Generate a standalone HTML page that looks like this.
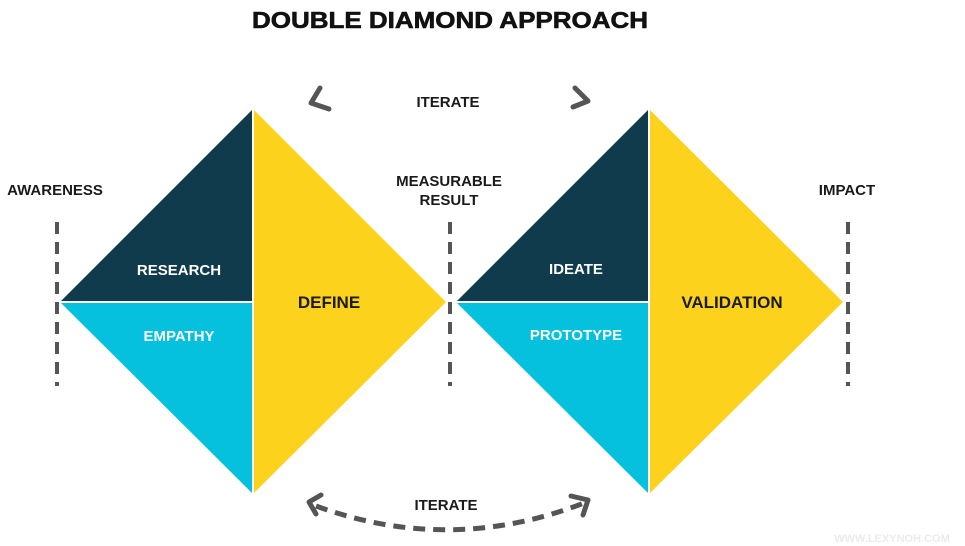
<!DOCTYPE html>
<html><head><meta charset="utf-8"><style>
html,body{margin:0;padding:0;background:#fff;width:965px;height:546px;overflow:hidden}
text{font-family:"Liberation Sans",Arial,sans-serif;font-weight:bold}
</style></head><body>
<svg width="965" height="546" viewBox="0 0 965 546" xmlns="http://www.w3.org/2000/svg">
<text x="450" y="28" text-anchor="middle" font-size="23" fill="#111" textLength="396" lengthAdjust="spacingAndGlyphs" stroke="#111" stroke-width="0.6">DOUBLE DIAMOND APPROACH</text>
<polygon points="60,302 253,109 253,302" fill="#0f3b4c"/>
<polygon points="60,302 253,302 253,494" fill="#06c1dd"/>
<polygon points="253,109 446,302 253,494" fill="#fcd21c"/>
<line x1="60" y1="302" x2="253" y2="302" stroke="#fff" stroke-width="2"/>
<line x1="253" y1="109" x2="253" y2="494" stroke="#fff" stroke-width="2"/>
<polygon points="456,302 649,109 649,302" fill="#0f3b4c"/>
<polygon points="456,302 649,302 649,494" fill="#06c1dd"/>
<polygon points="649,109 843,302 649,494" fill="#fcd21c"/>
<line x1="456" y1="302" x2="649" y2="302" stroke="#fff" stroke-width="2"/>
<line x1="649" y1="109" x2="649" y2="494" stroke="#fff" stroke-width="2"/>
<g stroke="#555" stroke-width="4" stroke-dasharray="12 8">
<line x1="57" y1="222" x2="57" y2="386"/>
<line x1="450" y1="222" x2="450" y2="386"/>
<line x1="848" y1="222" x2="848" y2="386"/>
</g>
<g fill="none" stroke="#555" stroke-width="5" stroke-linecap="round" stroke-linejoin="round">
<polyline points="320,88 311,103 329,109"/>
<polyline points="575,88 588,101 573,107"/>
<path d="M316,506 Q450,555 584,503" stroke-dasharray="12 8" stroke-linecap="butt"/>
<polyline points="321,495 309,502 316,514"/>
<polyline points="571,496 588,500 583,515"/>
</g>
<g font-size="15" fill="#1a1a1a">
<text x="448" y="107" text-anchor="middle">ITERATE</text>
<text x="446" y="510" text-anchor="middle">ITERATE</text>
<text x="55" y="195" text-anchor="middle">AWARENESS</text>
<text x="449" y="186" text-anchor="middle">MEASURABLE</text>
<text x="449" y="205" text-anchor="middle">RESULT</text>
<text x="847" y="195" text-anchor="middle">IMPACT</text>
</g>
<g font-size="15" fill="#fff">
<text x="179" y="275" text-anchor="middle">RESEARCH</text>
<text x="179" y="341" text-anchor="middle">EMPATHY</text>
<text x="576" y="274" text-anchor="middle">IDEATE</text>
<text x="576" y="340" text-anchor="middle">PROTOTYPE</text>
</g>
<g font-size="17" fill="#1a1a1a">
<text x="329" y="308" text-anchor="middle">DEFINE</text>
<text x="732" y="308" text-anchor="middle">VALIDATION</text>
</g>
<text x="892" y="542" text-anchor="middle" font-size="11" fill="#ebebeb" font-weight="normal">WWW.LEXYNOH.COM</text>
</svg>
</body></html>
